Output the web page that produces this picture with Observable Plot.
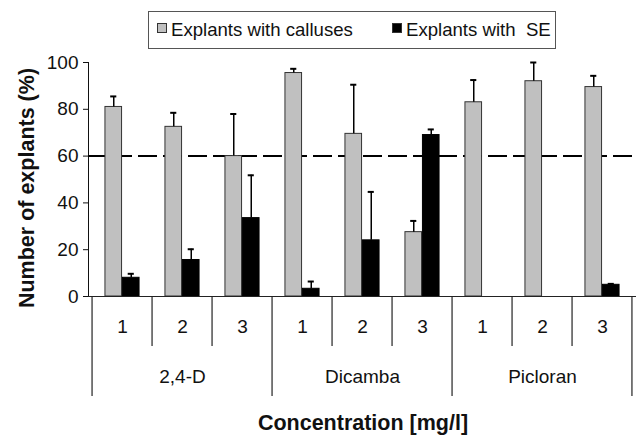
<!DOCTYPE html>
<html><head><meta charset="utf-8">
<script src="https://cdn.jsdelivr.net/npm/d3@7"></script>
<script src="https://cdn.jsdelivr.net/npm/@observablehq/plot@0.6"></script>
<style>
body{margin:0;background:#fff;}
#wrap{position:relative;width:638px;height:435px;font-family:"Liberation Sans",Arial,sans-serif;color:#111;overflow:hidden;}
#legend{position:absolute;left:148px;top:11px;width:408px;height:38px;border:1px solid #555;box-sizing:border-box;font-size:18.6px;}
#legend span{position:absolute;top:7px;white-space:pre;line-height:22px;}
#legend i{position:absolute;top:11px;width:10px;height:10px;box-sizing:border-box;border:1px solid #333;}
.title{position:absolute;font-weight:bold;font-size:21.5px;white-space:nowrap;transform:translate(-50%,-50%);line-height:1;}
#plot{position:absolute;left:0;top:0;}
</style></head>
<body>
<div id="wrap">
  <div id="plot"></div>
  <div id="legend"></div>
  <div class="title" id="ytitle" style="left:28px;top:188px;transform:translate(-50%,-50%) rotate(-90deg);"></div>
  <div class="title" id="xtitle" style="left:363px;top:424px;"></div>
</div>
<script>
const groups = ["2,4-D", "Dicamba", "Picloran"];
const concentrations = ["1", "2", "3"];
const seriesNames = ["Explants with calluses", "Explants with  SE"];
const callus    = [81, 72.5, 60, 95.5, 69.5, 27.5, 83, 92, 89.5];
const callusErr = [4.5, 6, 18, 1.8, 21, 4.8, 9.5, 8, 4.8];
const se        = [8, 15.6, 33.5, 3.3, 24, 69, 0, 0, 5];
const seErr     = [1.7, 4.6, 18.3, 3.1, 20.7, 2.4, 0, 0, 0.4];
const yTicks = [0, 20, 40, 60, 80, 100];
const refLine = 60;
const yTitle = "Number of explants (%)";
const xTitle = "Concentration [mg/l]";

const rows = [];
groups.forEach((g, gi) => concentrations.forEach((c, ci) => {
  const i = gi * concentrations.length + ci;
  rows.push({key: g + " " + c, group: g, conc: c, first: ci === 0,
    callus: callus[i], callusErr: callusErr[i], se: se[i], seErr: seErr[i]});
}));
const keys = rows.map(d => d.key);

const W = 638, H = 435, mL = 88, mR = 2, mT = 62, mB = 139;
const bw = (W - mL - mR) / keys.length;
const barW = 17.5, capW = 7;
const gray = "#c0c0c0", ink = "#111";

const chart = Plot.plot({
  width: W, height: H,
  marginLeft: mL, marginRight: mR, marginTop: mT, marginBottom: mB,
  style: {fontFamily: "Liberation Sans, Arial, sans-serif", fontSize: "19px", color: ink, background: "transparent"},
  x: {type: "band", domain: keys, axis: null, paddingInner: 0, paddingOuter: 0},
  y: {domain: [0, 100], ticks: yTicks, tickSize: 5, tickPadding: 5, line: true, label: null},
  marks: [
    Plot.ruleY([refLine], {stroke: "#000", strokeWidth: 2, strokeDasharray: "19,6"}),
    Plot.barY(rows, {x: "key", y: "callus", fill: gray, stroke: "#333", strokeWidth: 1,
      insetLeft: bw / 2 - barW, insetRight: bw / 2}),
    Plot.barY(rows.filter(d => d.se > 0), {x: "key", y: "se", fill: "#000", stroke: "#000", strokeWidth: 1,
      insetLeft: bw / 2, insetRight: bw / 2 - barW}),
    Plot.ruleX(rows, {x: "key", y1: "callus", y2: d => d.callus + d.callusErr, dx: -barW / 2, stroke: "#000", strokeWidth: 1.5}),
    Plot.tickY(rows, {x: "key", y: d => d.callus + d.callusErr, stroke: "#000", strokeWidth: 2,
      insetLeft: bw / 2 - barW / 2 - capW / 2, insetRight: bw / 2 + barW / 2 - capW / 2}),
    Plot.ruleX(rows.filter(d => d.se > 0), {x: "key", y1: "se", y2: d => d.se + d.seErr, dx: barW / 2, stroke: "#000", strokeWidth: 1.5}),
    Plot.tickY(rows.filter(d => d.se > 0), {x: "key", y: d => d.se + d.seErr, stroke: "#000", strokeWidth: 2,
      insetLeft: bw / 2 + barW / 2 - capW / 2, insetRight: bw / 2 - barW / 2 - capW / 2}),
    Plot.ruleY([0], {stroke: "#222", strokeWidth: 1.2}),
    // category table lines
    Plot.ruleX(rows.filter(d => !d.first), {x: "key", y1: 0, y2: 0, dx: -bw / 2, insetBottom: -50, stroke: "#222", strokeWidth: 1.2}),
    Plot.ruleX(rows.filter(d => d.first), {x: "key", y1: 0, y2: 0, dx: -bw / 2, insetBottom: -100, stroke: "#222", strokeWidth: 1.2}),
    Plot.ruleX([keys[keys.length - 1]], {x: d => d, y1: 0, y2: 0, dx: bw / 2 - 1, insetBottom: -100, stroke: "#222", strokeWidth: 1.2}),
    Plot.text(rows, {x: "key", y: 0, text: "conc", dy: 30, fontSize: 19, fill: ink}),
    Plot.text(rows.filter(d => d.conc === "2"), {x: "key", y: 0, text: "group", dy: 80, fontSize: 19, fill: ink})
  ]
});
document.getElementById("plot").appendChild(chart);

const legend = document.getElementById("legend");
const swatches = [[gray, 8, 22], ["#000", 243, 257]];
seriesNames.forEach((name, i) => {
  const sw = document.createElement("i");
  sw.style.left = swatches[i][1] + "px";
  sw.style.background = swatches[i][0];
  legend.appendChild(sw);
  const t = document.createElement("span");
  t.style.left = swatches[i][2] + "px";
  t.textContent = name;
  legend.appendChild(t);
});
document.getElementById("ytitle").textContent = yTitle;
document.getElementById("xtitle").textContent = xTitle;
</script>
</body></html>
